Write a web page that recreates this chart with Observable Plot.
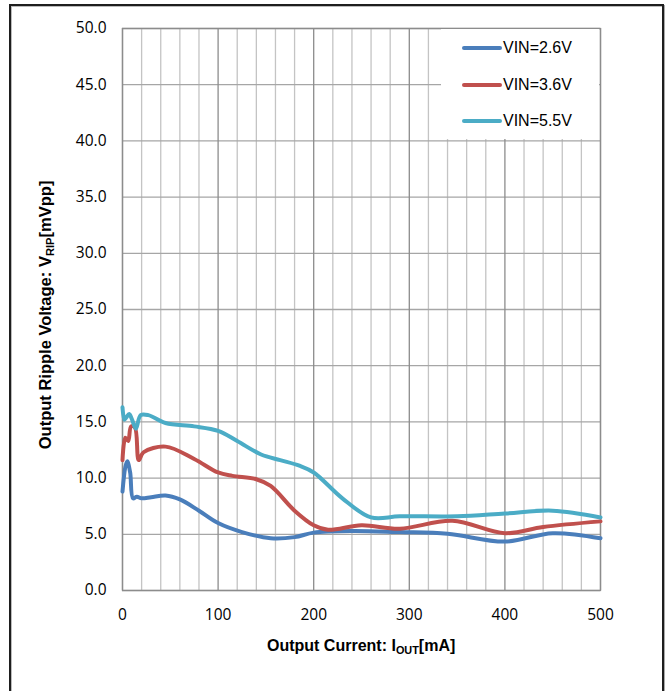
<!DOCTYPE html>
<html>
<head>
<meta charset="utf-8">
<script src="https://cdn.jsdelivr.net/npm/d3@7"></script>
<script src="https://cdn.jsdelivr.net/npm/@observablehq/plot@0.6"></script>
<style>
  html, body { margin: 0; padding: 0; background: #fff; }
  #wrap { position: relative; width: 671px; height: 691px; overflow: hidden; }
  #border { position: absolute; left: 9px; top: 4px; width: 651px; height: 700px;
            border: 2px solid #1e1e1e; box-shadow: 1px 1px 0 #aaa, inset 1px 1px 0 #bbb; pointer-events: none; }
  .axtitle { position: absolute; font-family: "Liberation Sans", Arial, sans-serif; font-weight: bold; color: #000; white-space: nowrap; }
  .axtitle sub { font-size: 0.68em; vertical-align: -0.25em; }
  #legend { position: absolute; left: 441px; top: 29px; width: 158px; height: 110px; background: #fff; }
  .lg { position: absolute; left: 21px; height: 20px; font-family: "Liberation Sans", Arial, sans-serif; font-size: 16px; color: #000; }
  .lg span.sw { position: absolute; left: 0; top: 8px; width: 40px; height: 4px; border-radius: 2px; }
  .lg span.tx { position: absolute; left: 41px; top: 0; line-height: 20px; white-space: nowrap; }
</style>
</head>
<body>
<div id="wrap"></div>
<script>
// ---- data ----
const seriesNames = ["VIN=2.6V", "VIN=3.6V", "VIN=5.5V"];
const seriesColors = ["#4a7ebb", "#c0504d", "#4bacc6"];

const iout26 = [0, 3, 5, 8, 11, 15, 20, 30, 45, 60, 80, 100, 125, 155, 180, 200, 240, 290, 340, 400, 450, 500];
const vrip26 = [8.8, 11.0, 11.5, 10.5, 8.2, 8.35, 8.2, 8.3, 8.45, 8.1, 7.1, 6.0, 5.2, 4.65, 4.75, 5.15, 5.3, 5.2, 5.05, 4.35, 5.1, 4.65];

const iout36 = [0, 3, 6, 9, 13, 17, 22, 45, 75, 100, 115, 140, 155, 180, 200, 215, 250, 290, 345, 400, 440, 500];
const vrip36 = [11.6, 13.6, 13.3, 14.6, 14.5, 11.6, 12.3, 12.8, 11.7, 10.5, 10.2, 9.9, 9.3, 7.1, 5.8, 5.4, 5.8, 5.5, 6.2, 5.1, 5.65, 6.15];

const iout55 = [0, 2, 4, 7, 10, 14, 19, 27, 45, 75, 100, 120, 145, 165, 185, 200, 230, 260, 290, 350, 400, 450, 500];
const vrip55 = [16.3, 15.2, 15.4, 15.7, 15.2, 14.4, 15.6, 15.6, 14.9, 14.6, 14.2, 13.3, 12.1, 11.6, 11.1, 10.5, 8.2, 6.5, 6.6, 6.6, 6.85, 7.1, 6.5];

const xTicks = [0, 100, 200, 300, 400, 500];
const yTicks = [0, 5, 10, 15, 20, 25, 30, 35, 40, 45, 50];
const xMinorGrid = d3.range(0, 501, 20).filter(v => v % 100 !== 0);

// ---- build table ----
const table = [];
[[iout26, vrip26], [iout36, vrip36], [iout55, vrip55]].forEach(([xs, ys], i) => {
  xs.forEach((x, j) => table.push({series: seriesNames[i], iout: x, vrip: ys[j]}));
});

const chart = Plot.plot({
  width: 671,
  height: 691,
  marginLeft: 122,
  marginRight: 71,
  marginTop: 28,
  marginBottom: 101,
  style: { fontFamily: "'Open Sans', sans-serif", fontSize: "15.5px", color: "#000", background: "#fff" },
  x: { domain: [0, 500], ticks: xTicks, tickSize: 0, tickPadding: 18, label: null },
  y: { domain: [0, 50], ticks: yTicks, tickFormat: d3.format(".1f"), tickSize: 0, tickPadding: 16, label: null },
  color: { domain: seriesNames, range: seriesColors },
  marks: [
    Plot.ruleX(xMinorGrid, { stroke: "#c4c4c4", strokeWidth: 1.3 }),
    Plot.ruleY(yTicks, { stroke: "#a6a6a6", strokeWidth: 1.3 }),
    Plot.ruleX(xTicks, { stroke: "#8c8c8c", strokeWidth: 1.3 }),
    Plot.frame({ stroke: "#8c8c8c", strokeWidth: 1.3 }),
    Plot.line(table, {
      x: "iout", y: "vrip", z: "series", stroke: "series",
      curve: "catmull-rom", strokeWidth: 4, strokeLinejoin: "round", strokeLinecap: "round"
    }),
    Plot.axisX({ ticks: xTicks, tickSize: 0, tickPadding: 18, label: null }),
    Plot.axisY({ ticks: yTicks, tickFormat: d3.format(".1f"), tickSize: 0, tickPadding: 16, label: null })
  ]
});

const wrap = document.getElementById("wrap");
chart.style.position = "absolute";
chart.style.left = "0px";
chart.style.top = "0px";
wrap.appendChild(chart);

// legend (HTML, over the plot area)
const legend = document.createElement("div");
legend.id = "legend";
seriesNames.forEach((name, i) => {
  const row = document.createElement("div");
  row.className = "lg";
  row.style.top = (9 + i * 36.5) + "px";
  row.innerHTML = `<span class="sw" style="background:${seriesColors[i]}"></span><span class="tx">${name}</span>`;
  legend.appendChild(row);
});
wrap.appendChild(legend);

// axis titles
const xt = document.createElement("div");
xt.className = "axtitle";
xt.style.fontSize = "16px";
xt.innerHTML = "Output Current: I<sub>OUT</sub>[mA]";
wrap.appendChild(xt);
xt.style.left = (361 - xt.offsetWidth / 2) + "px";
xt.style.top = "637px";

const yt = document.createElement("div");
yt.className = "axtitle";
yt.style.fontSize = "16.5px";
yt.innerHTML = "Output Ripple Voltage: V<sub>RIP</sub>[mVpp]";
wrap.appendChild(yt);
const w = yt.offsetWidth, h = yt.offsetHeight;
yt.style.left = (46 - w / 2) + "px";
yt.style.top = (315 - h / 2) + "px";
yt.style.transform = "rotate(-90deg)";

const border = document.createElement("div");
border.id = "border";
wrap.appendChild(border);
</script>
</body>
</html>
